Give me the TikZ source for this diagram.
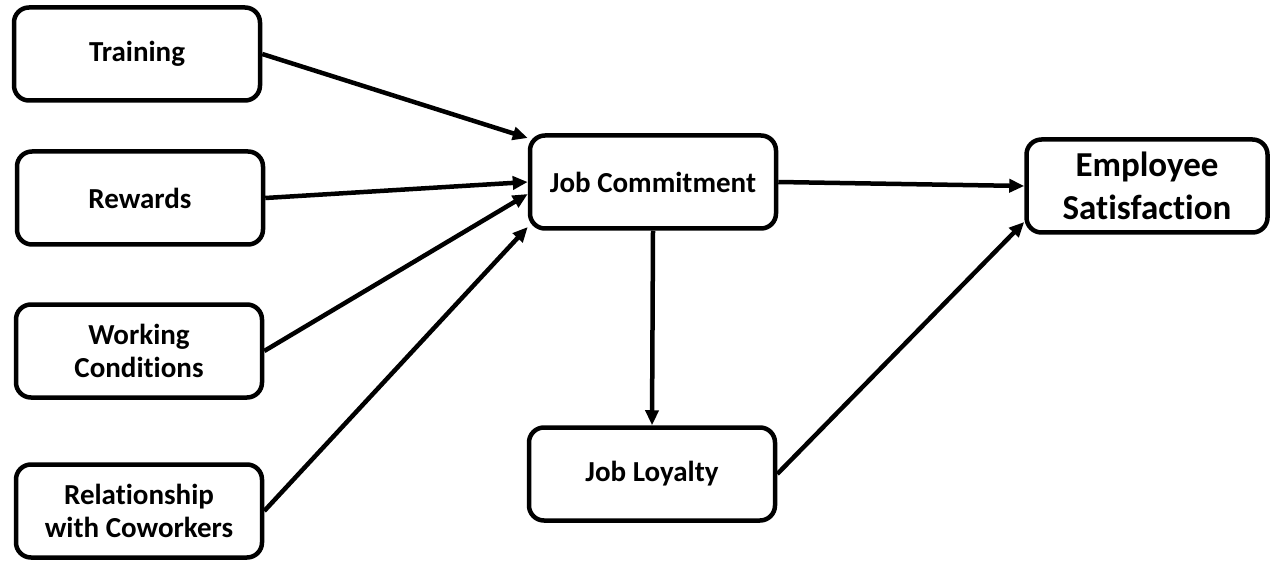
\documentclass[tikz,border=0pt]{standalone}
\usepackage{fontspec}
\setmainfont[Ligatures=NoCommon]{Carlito}
\usetikzlibrary{arrows.meta}

\begin{document}
\begin{tikzpicture}[x=1pt,y=-1pt,-{Triangle[length=15pt,width=13pt]},line width=4.5pt,
            main node/.style={draw,rounded corners=15pt,minimum width=246pt,minimum height=93pt,
                align=center,font=\fontsize{29}{33}\selectfont\bfseries,-},
            big node/.style={main node,minimum width=241pt,font=\fontsize{35}{43}\selectfont\bfseries}]

        \useasboundingbox (0,0) rectangle (1273,561);

        % Define vertices
        \node[main node] (train) at (137,54) {Training};
        \node[main node] (reward) at (140,198) {Rewards};
        \node[main node] (work) at (139,351) {Working\\Conditions};
        \node[main node] (rel) at (139,511) {Relationship\\with Coworkers};
        \node[main node] (commit) at (653,182) {Job Commitment};
        \node[main node] (loyal) at (652,474) {Job Loyalty};
        \node[big node] (satisf) at (1147,186) {Employee\\Satisfaction};

        % Draw edges
        \path
            (train.east) edge ([yshift=44pt]commit.west)
            (reward.east) edge (commit.west)
            (work.east) edge ([yshift=-12pt]commit.west)
            (rel.east) edge ([yshift=-45pt]commit.west)
            (commit.east) edge (satisf.west)
            (commit.south) edge (loyal.north)
            (loyal.east) edge ([yshift=-36pt]satisf.west);

        \end{tikzpicture}
\end{document}
